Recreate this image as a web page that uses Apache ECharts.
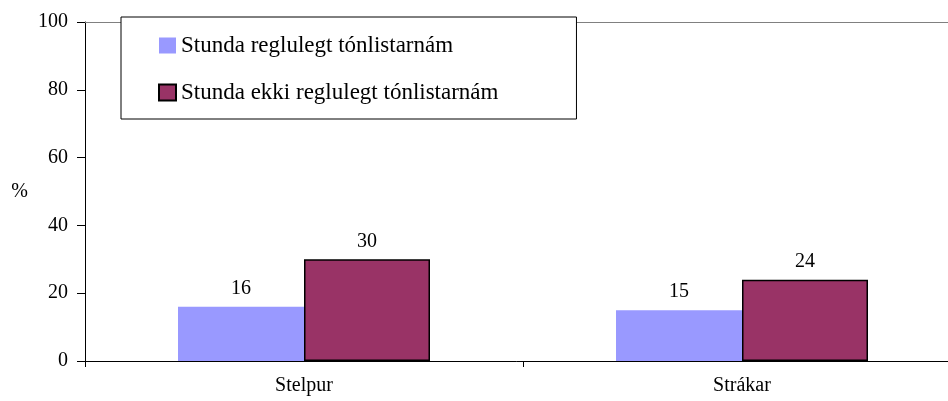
<!DOCTYPE html>
<html>
<head>
<meta charset="utf-8">
<script src="https://cdn.jsdelivr.net/npm/echarts@6/dist/echarts.min.js"></script>
<style>
  html, body { margin: 0; padding: 0; background: #fff; }
  #chart { width: 948px; height: 401px; }
</style>
</head>
<body>
<div id="chart"></div>
<script>
// data
const categories = ['Stelpur', 'Strákar'];
const seriesNames = ['Stunda reglulegt tónlistarnám', 'Stunda ekki reglulegt tónlistarnám'];
const regular = [16, 15];
const notRegular = [30, 24];

const chart = echarts.init(document.getElementById('chart'));
const serif = '"Liberation Serif", "DejaVu Serif", serif';

const option = {
    animation: false,
    textStyle: { fontFamily: serif },
    grid: {
        left: 85,
        width: 876,
        top: 22,
        bottom: 40,
        outerBoundsMode: 'none',
        containLabel: false
    },
    legend: {
        orient: 'vertical',
        left: 121,
        top: 17,
        padding: [17, 78, 15, 37],
        backgroundColor: '#fff',
        borderColor: '#000',
        borderWidth: 1,
        borderRadius: 0,
        icon: 'rect',
        itemWidth: 17,
        itemHeight: 16,
        itemGap: 24,
        textStyle: { fontFamily: serif, fontSize: 23, color: '#000', lineHeight: 23 },
        data: seriesNames
    },
    xAxis: [
        {
            type: 'category',
            data: categories,
            axisLine: { lineStyle: { color: '#000', width: 1 } },
            axisTick: { show: true, length: 6, lineStyle: { color: '#000' } },
            axisLabel: { fontFamily: serif, fontSize: 20, color: '#000', margin: 15 }
        },
        {
            // only the grey frame line along the top of the plot
            type: 'category',
            position: 'top',
            data: categories,
            axisLine: { show: true, lineStyle: { color: '#808080', width: 1 } },
            axisTick: { show: false },
            axisLabel: { show: false }
        }
    ],
    yAxis: {
        type: 'value',
        min: 0,
        max: 100,
        interval: 20,
        name: '%',
        nameLocation: 'middle',
        nameRotate: 0,
        nameGap: 57,
        nameTextStyle: { fontFamily: serif, fontSize: 20, color: '#000' },
        splitLine: { show: false },
        axisLine: { show: true, lineStyle: { color: '#000', width: 1 } },
        axisTick: { show: true, length: 8, lineStyle: { color: '#000' } },
        axisLabel: { fontFamily: serif, fontSize: 20, color: '#000', margin: 17 }
    },
    series: [
        {
            name: seriesNames[0],
            type: 'bar',
            data: regular,
            barWidth: 126,
            barGap: 0,
            itemStyle: { color: '#9999FF' },
            label: { show: true, position: 'top', distance: 8, fontFamily: serif, fontSize: 20, color: '#000' }
        },
        {
            name: seriesNames[1],
            type: 'bar',
            data: notRegular,
            barWidth: 126,
            barGap: 0,
            itemStyle: { color: '#993366', borderColor: '#000', borderWidth: 1.5 },
            label: { show: true, position: 'top', distance: 8, fontFamily: serif, fontSize: 20, color: '#000' }
        }
    ]
};

chart.setOption(option);

window.addEventListener('resize', function () {
    chart.resize();
});
</script>
</body>
</html>
